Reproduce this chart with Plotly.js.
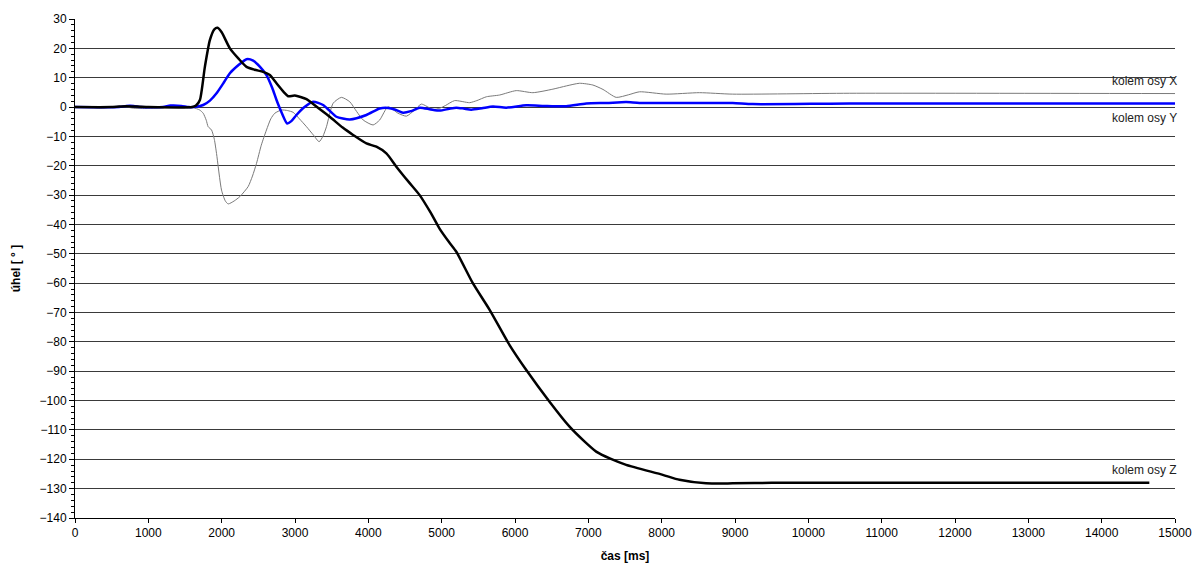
<!DOCTYPE html>
<html>
<head>
<meta charset="utf-8">
<script src="https://cdn.plot.ly/plotly-3.0.1.min.js"></script>
<style>html,body{margin:0;padding:0;background:#fff;}#chart{width:1197px;height:567px;}</style>
</head>
<body>
<div id="chart"></div>
<script>
// time [ms] and angle [°] series
const tZ = [0, 500, 700, 800, 1000, 1600, 1650, 1703, 1771, 1839, 1900, 1944, 2000, 2112, 2230, 2339, 2450, 2566, 2657, 2750, 2850, 2906, 2997, 3157, 3300, 3474, 3650, 3792, 3974, 4110, 4246, 4382, 4550, 4700, 4850, 4973, 5100, 5200, 5427, 5654, 5926, 6154, 6471, 6744, 6950, 7107, 7300, 7516, 8015, 8243, 8606, 8969, 9500, 12000, 14650];
const aZ = [0, 0, 0.3, 0.2, 0, 0, 0.5, 2.4, 13.7, 22.8, 26.5, 27.0, 25.5, 20, 16.5, 13.7, 12.7, 12.0, 10.9, 8, 5, 3.7, 3.9, 2.7, 0, -3.3, -7, -9.5, -12.4, -13.5, -15.8, -20.3, -25.5, -30, -36, -41.5, -46, -49.3, -60.1, -69.1, -81.1, -89.6, -100.4, -108.9, -114, -117.4, -119.8, -121.9, -125.3, -127.0, -128.2, -128.2, -128, -128, -128];

const tY = [0, 600, 700, 800, 900, 1200, 1300, 1450, 1550, 1650, 1748, 1840, 1930, 2020, 2112, 2230, 2339, 2430, 2520, 2611, 2690, 2748, 2820, 2893, 2950, 3020, 3130, 3247, 3383, 3470, 3565, 3747, 3974, 4155, 4270, 4370, 4473, 4580, 4700, 4850, 4973, 5100, 5200, 5300, 5404, 5550, 5700, 5881, 6154, 6400, 6699, 6971, 7250, 7516, 7698, 8500, 8969, 9242, 10559, 15000];
const aY = [0, 0, 0.4, 0.4, 0, 0, 0.5, 0.4, 0, 0.1, 0.7, 2.2, 4.7, 8, 11.5, 14.3, 16.3, 15.8, 13.8, 10.9, 6.5, 2.4, -2, -5.6, -4.8, -2.7, 0, 1.8, 0.7, -1.2, -3.3, -4.2, -2.7, -0.5, -0.3, -0.9, -1.9, -1.4, -0.2, -0.8, -1.2, -0.6, -0.2, -0.5, -0.9, -0.4, 0.2, -0.2, 0.6, 0.4, 0.3, 1.2, 1.4, 1.7, 1.4, 1.4, 1.4, 1.0, 1.2, 1.2];

const tX = [0, 200, 300, 400, 500, 700, 800, 950, 1100, 1200, 1500, 1612, 1700, 1748, 1790, 1816, 1862, 1900, 1930, 1998, 2050, 2089, 2170, 2248, 2361, 2420, 2475, 2540, 2611, 2670, 2725, 2816, 2900, 2975, 3060, 3157, 3250, 3329, 3380, 3429, 3520, 3633, 3747, 3840, 3929, 4065, 4155, 4269, 4405, 4519, 4632, 4723, 4882, 4973, 5050, 5177, 5381, 5480, 5609, 5790, 6017, 6244, 6517, 6700, 6880, 7062, 7200, 7380, 7550, 7698, 8061, 8515, 8969, 10559, 15000];
const aX = [0, 0, -0.3, -0.3, 0, 0, -0.4, -0.5, -0.3, 0, 0, -0.2, -1, -2.1, -4.5, -6.7, -7.8, -11, -15.8, -28.3, -32, -33, -32, -30.5, -27.1, -23.5, -19.2, -13, -7.8, -4, -2.1, -1.0, -1.2, -1.8, -4, -6.7, -9.5, -11.8, -10, -6.7, 1.3, 3.3, 1.8, -1.5, -4.4, -6.1, -4.4, 0.1, -2.1, -3.1, -1.0, 1.0, -0.8, -0.4, 0.5, 2.2, 1.5, 2.2, 3.5, 4.1, 5.6, 4.9, 6.1, 7.2, 8.1, 7.5, 6, 3.3, 4.2, 5.2, 4.4, 4.9, 4.4, 4.7, 4.6];

const seriesNames = ['kolem osy X', 'kolem osy Y', 'kolem osy Z'];
const labelY = [8.8, -3.8, -123.6];
const xTitle = 'čas [ms]';
const yTitle = 'úhel [ ° ]';

const font = 'Arial, "Liberation Sans", sans-serif';

const traces = [
  {x: tX, y: aX, name: seriesNames[0], mode: 'lines', line: {color: '#7a7a7a', width: 1, shape: 'spline', smoothing: 0.6}},
  {x: tY, y: aY, name: seriesNames[1], mode: 'lines', line: {color: '#0000ff', width: 2.5, shape: 'spline', smoothing: 0.6}},
  {x: tZ, y: aZ, name: seriesNames[2], mode: 'lines', line: {color: '#000000', width: 2.5, shape: 'spline', smoothing: 0.6}}
];

const annotations = seriesNames.map((n, i) => ({
  x: 15000, y: labelY[i], xref: 'x', yref: 'y', text: n, showarrow: false,
  xanchor: 'right', yanchor: 'middle', xshift: 4, font: {family: font, size: 12, color: '#222'}
}));

const layout = {
  width: 1197, height: 567,
  margin: {l: 75, r: 22, t: 19, b: 49},
  paper_bgcolor: '#fff', plot_bgcolor: '#fff',
  showlegend: false,
  font: {family: font, size: 12, color: '#000'},
  xaxis: {
    range: [0, 15000], dtick: 1000, tick0: 0, tickformat: 'd', showgrid: false, zeroline: false,
    showline: true, linecolor: '#000', linewidth: 1, ticks: 'outside', ticklen: 4, tickcolor: '#000',
    tickfont: {family: font, size: 12}, automargin: false,
    title: {text: xTitle, font: {family: font, size: 12, weight: 'bold'}, standoff: 12}
  },
  yaxis: {
    range: [-140, 30], dtick: 10, tick0: 0, showgrid: true, gridcolor: '#3a3a3a', gridwidth: 1,
    zeroline: false, showline: true, linecolor: '#000', linewidth: 1,
    ticks: 'outside', ticklen: 5, tickcolor: '#000',
    minor: {dtick: 2, ticks: 'outside', ticklen: 3, tickcolor: '#000', showgrid: false},
    tickfont: {family: font, size: 12}, automargin: false,
    title: {text: yTitle, font: {family: font, size: 12, weight: 'bold'}, standoff: 16}
  },
  annotations: annotations
};

Plotly.newPlot('chart', traces, layout, {displayModeBar: false, staticPlot: true});
</script>
</body>
</html>
